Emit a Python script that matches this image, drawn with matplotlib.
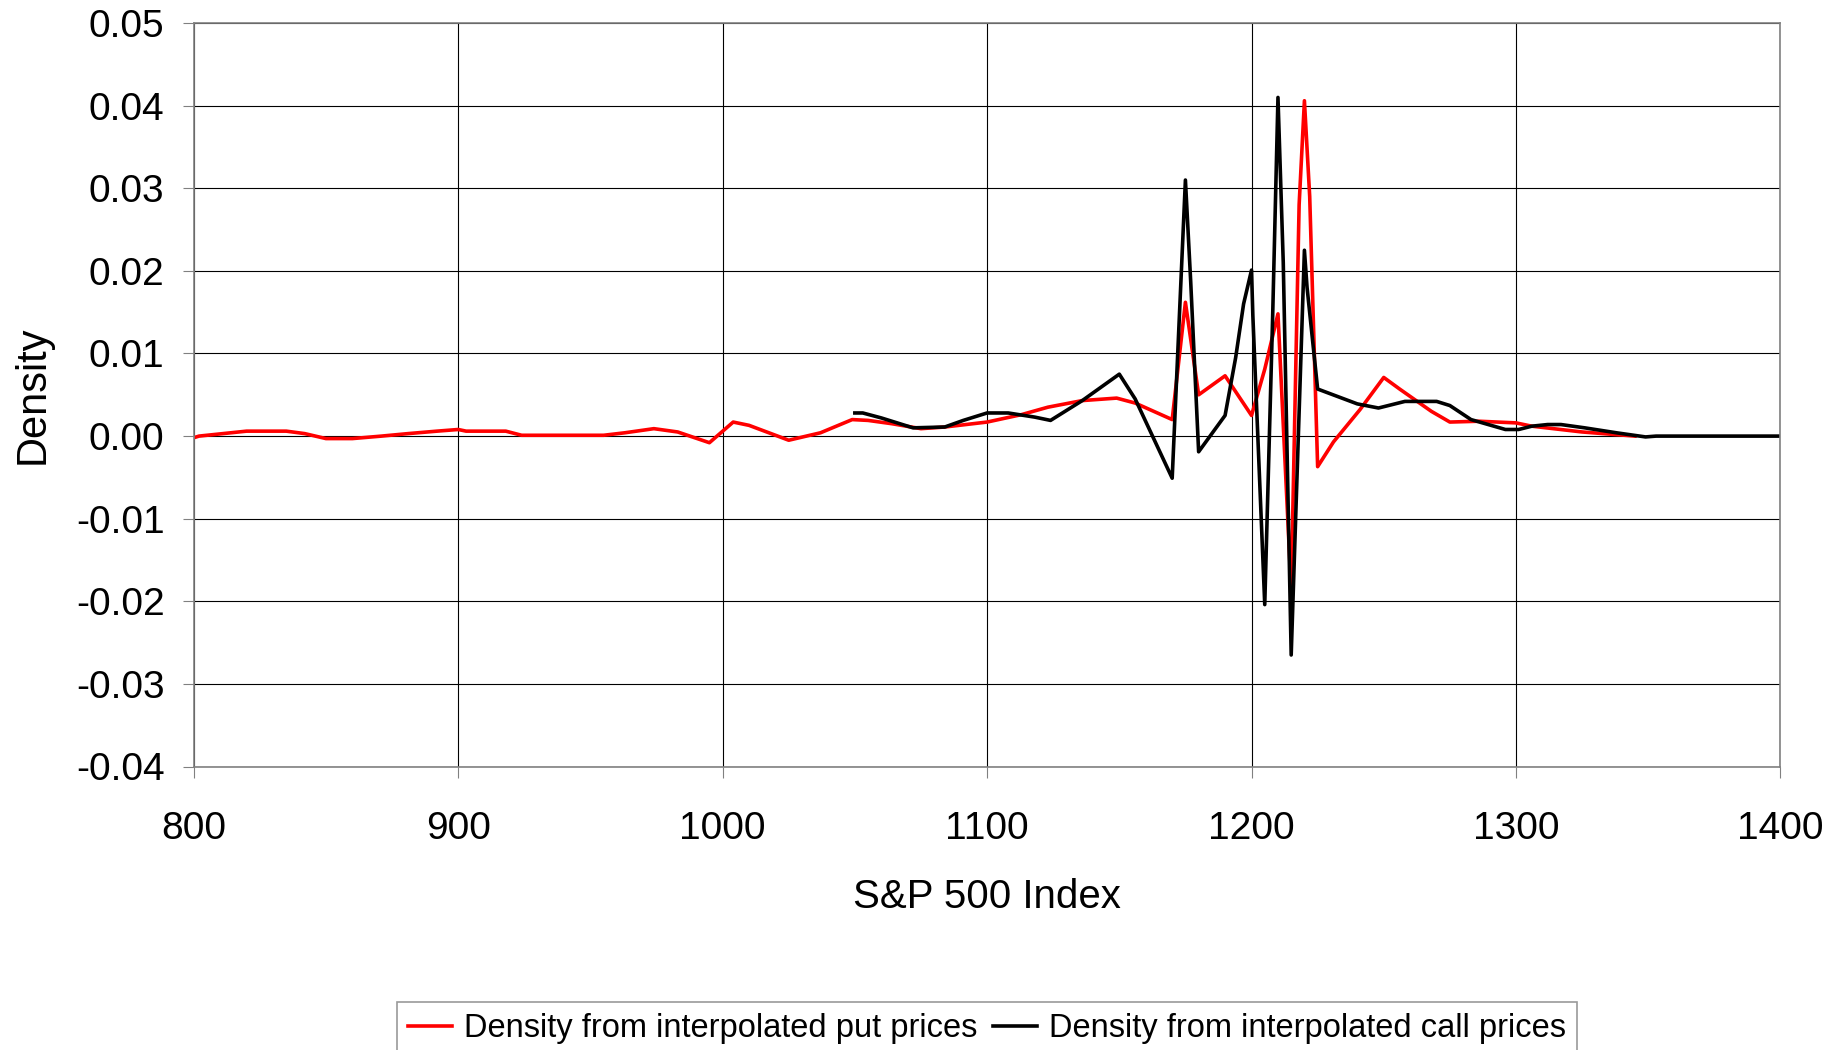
import matplotlib
matplotlib.use("Agg")
import matplotlib.pyplot as plt

# strike levels and densities
put_x = [800, 802, 811, 820, 835, 842, 850, 860, 871, 881, 892, 900, 903, 918,
         924, 955, 963, 974, 983, 995, 1004, 1010, 1025, 1037, 1049, 1055, 1064,
         1075, 1084, 1100, 1113, 1123, 1136, 1149, 1156, 1170, 1175, 1180, 1190,
         1200, 1205, 1210, 1215, 1218, 1220, 1222, 1225, 1231, 1241, 1250, 1256,
         1268, 1275, 1286, 1300, 1306, 1325, 1345]
put_y = [-0.0002, 0.0, 0.0003, 0.0006, 0.0006, 0.0003, -0.0003, -0.0003, 0.0,
         0.0003, 0.0006, 0.0008, 0.0006, 0.0006, 0.0001, 0.0001, 0.0004, 0.0009,
         0.0005, -0.0008, 0.0017, 0.0013, -0.0005, 0.0004, 0.0020, 0.0019,
         0.0015, 0.0009, 0.0011, 0.0017, 0.0026, 0.0035, 0.0043, 0.0046, 0.0040,
         0.0020, 0.0162, 0.0050, 0.0073, 0.0025, 0.0081, 0.0148, -0.0187, 0.0280,
         0.0406, 0.0290, -0.0037, -0.0007, 0.0032, 0.0071, 0.0057, 0.0030,
         0.0017, 0.0018, 0.0016, 0.0012, 0.0005, 0.0]

call_x = [1050, 1053, 1060, 1072, 1084, 1091, 1100, 1108, 1118, 1124, 1136, 1150,
          1156, 1170, 1175, 1177, 1180, 1190, 1194, 1197, 1200, 1200.5, 1205,
          1208, 1210, 1212, 1215, 1220, 1221, 1225, 1240, 1248, 1258, 1270, 1275,
          1283, 1296, 1301, 1306, 1312, 1317, 1326, 1338, 1349, 1353, 1400]
call_y = [0.0028, 0.0028, 0.0022, 0.0010, 0.0011, 0.0019, 0.0028, 0.0028, 0.0023,
          0.0019, 0.0043, 0.0075, 0.0045, -0.0051, 0.0310, 0.0187, -0.0019,
          0.0025, 0.0095, 0.0160, 0.0201, 0.0146, -0.0204, 0.0146, 0.0410,
          0.0210, -0.0265, 0.0225, 0.0180, 0.0057, 0.0039, 0.0034, 0.0042,
          0.0042, 0.0037, 0.0020, 0.0008, 0.0008, 0.0012, 0.0014, 0.0014, 0.0010,
          0.0004, -0.0001, 0.0, 0.0]

x_ticks = [800, 900, 1000, 1100, 1200, 1300, 1400]
y_ticks = [-0.04, -0.03, -0.02, -0.01, 0.0, 0.01, 0.02, 0.03, 0.04, 0.05]

plt.rcParams['font.family'] = ['Liberation Sans', 'DejaVu Sans']

fig = plt.figure(figsize=(18.45, 10.5), dpi=100)
ax = fig.add_axes([0.105, 0.270, 0.860, 0.708])

ax.plot(put_x, put_y, color='#ff0000', linewidth=2.6,
        label='Density from interpolated put prices')
ax.plot(call_x, call_y, color='black', linewidth=2.6,
        label='Density from interpolated call prices')

ax.set_xlim(800, 1400)
ax.set_ylim(-0.04, 0.05)
ax.set_xticks(x_ticks)
ax.set_yticks(y_ticks)
ax.set_yticklabels(['%.2f' % v for v in y_ticks])
ax.tick_params(labelsize=28, length=8, color='#808080')
ax.tick_params(axis='x', pad=24)
ax.tick_params(axis='y', pad=13)
ax.grid(True, color='black', linewidth=0.8)
ax.set_axisbelow(True)
for s in ax.spines.values():
    s.set_color('#808080')
    s.set_linewidth(1.2)

ax.set_xlabel('S&P 500 Index', fontsize=29, va='top')
ax.xaxis.set_label_coords(0.5, -0.150)
ax.set_ylabel('Density', fontsize=30)
ax.yaxis.set_label_coords(-0.089, 0.5)

leg = fig.legend(loc='upper center', bbox_to_anchor=(0.535, 0.046),
                 ncol=2, frameon=True, fancybox=False,
                 prop={'size': 23.5},
                 handlelength=1.35, handletextpad=0.35, columnspacing=0.5,
                 borderpad=0.35, borderaxespad=0)
leg.get_frame().set_edgecolor('#808080')
leg.get_frame().set_linewidth(1.2)

fig.savefig('out.png', dpi=100)
